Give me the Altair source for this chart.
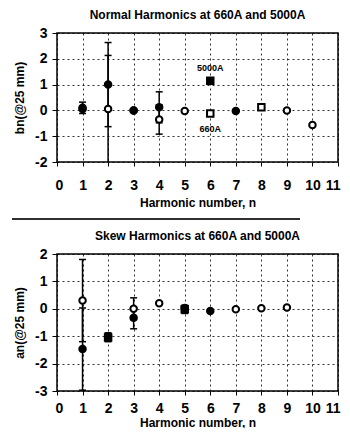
import altair as alt
import pandas as pd

# ---- Normal harmonics bn(@25 mm) ----
bn_660_n = [1, 2, 3, 4, 5, 6, 8, 9, 10]
bn_660_val = [0.05, 0.05, 0.0, -0.35, -0.02, -0.12, 0.12, 0.0, -0.57]
bn_660_err = [0.0, 2.08, 0.0, 0.57, 0.0, 0.0, 0.0, 0.0, 0.0]
bn_660_mk = ["circle", "circle", "circle", "circle", "circle", "square", "square", "circle", "circle"]

bn_5000_n = [1, 2, 3, 4, 6, 7]
bn_5000_val = [0.1, 1.0, 0.0, 0.12, 1.15, -0.02]
bn_5000_err = [0.22, 1.63, 0.0, 0.6, 0.0, 0.0]
bn_5000_mk = ["circle", "circle", "circle", "circle", "square", "circle"]

# ---- Skew harmonics an(@25 mm) ----
an_660_n = [1, 2, 3, 4, 5, 7, 8, 9]
an_660_val = [0.3, -1.0, 0.0, 0.2, 0.03, -0.02, 0.02, 0.05]
an_660_err = [1.5, 0.12, 0.4, 0.0, 0.0, 0.0, 0.0, 0.0]
an_660_mk = ["circle"] * 8

an_5000_n = [1, 2, 3, 5, 6]
an_5000_val = [-1.47, -1.05, -0.33, -0.02, -0.08]
an_5000_err = [1.5, 0.15, 0.4, 0.15, 0.0]
an_5000_mk = ["circle", "square", "circle", "square", "circle"]

x_ticks = list(range(0, 12))
bn_ticks = [3, 2, 1, 0, -1, -2]
an_ticks = [2, 1, 0, -1, -2, -3]

ann_text = ["5000A", "660A"]
ann_n = [6, 6]
ann_val = [1.65, -0.73]


def frame(n660, v660, e660, m660, n5000, v5000, e5000, m5000):
    a = pd.DataFrame({"n": n660, "val": v660, "err": e660, "marker": m660, "series": "660A"})
    b = pd.DataFrame({"n": n5000, "val": v5000, "err": e5000, "marker": m5000, "series": "5000A"})
    return pd.concat([a, b], ignore_index=True)


def panel(df, title, ytitle, yticks, w, h, lab_pad, ttl_pad, t_off, ann=None, sep=False):
    ydom = [min(yticks), max(yticks)]
    xenc = alt.X("n:Q", scale=alt.Scale(domain=[0, 11], nice=False, zero=False),
                 axis=alt.Axis(values=x_ticks, title="Harmonic number, n", grid=True,
                               gridDash=[2, 3], gridColor="black", gridOpacity=0.8,
                               domain=False, tickSize=4, labelPadding=lab_pad,
                               titlePadding=ttl_pad, labelFlush=True, labelFlushOffset=2,
                               labelOverlap=False, tickCount=12))
    yscale = alt.Scale(domain=ydom, nice=False, zero=False)
    yaxis = alt.Axis(values=yticks, title=ytitle, grid=True, gridDash=[2, 3],
                     gridColor="black", gridOpacity=0.8, domain=False, tickSize=5,
                     labelPadding=5, titlePadding=8, labelExpr="datum.value + ''",
                     labelOverlap=False, tickCount=6)
    base = alt.Chart(df)
    err = base.transform_filter("datum.err > 0").transform_calculate(
        lo="datum.val - datum.err", hi="datum.val + datum.err")
    rules = err.mark_rule(color="black", strokeWidth=1.5, clip=True).encode(
        x=xenc, y=alt.Y("lo:Q", scale=yscale, axis=yaxis), y2="hi:Q")
    cap_lo = err.mark_tick(orient="horizontal", color="black", size=7, thickness=1.5,
                           clip=True, opacity=1).encode(x="n:Q", y="lo:Q")
    cap_hi = err.mark_tick(orient="horizontal", color="black", size=7, thickness=1.5,
                           clip=True, opacity=1).encode(x="n:Q", y="hi:Q")
    pts = base.mark_point(filled=True, stroke="black", strokeWidth=2, size=42, opacity=1,
                          clip=True).encode(
        x="n:Q", y=alt.Y("val:Q"),
        fill=alt.Fill("series:N", scale=alt.Scale(domain=["660A", "5000A"],
                                                  range=["white", "black"]), legend=None),
        shape=alt.Shape("marker:N", scale=alt.Scale(domain=["circle", "square"],
                                                    range=["circle", "square"]), legend=None))
    layers = [rules, cap_lo, cap_hi, pts]
    if ann is not None:
        txt = alt.Chart(ann).mark_text(fontSize=9, fontWeight="bold", color="black",
                                       font="Liberation Sans").encode(
            x="n:Q", y="val:Q", text="label:N")
        layers.append(txt)
    if sep:
        line = alt.Chart(ann).mark_rule(color="#222222", strokeWidth=1.5).encode(
            x=alt.value(-45), x2=alt.value(243), y=alt.value(h + 57))
        layers.append(line)
    return alt.layer(*layers).properties(
        width=w, height=h,
        title=alt.TitleParams(title, offset=t_off))


bn_df = frame(bn_660_n, bn_660_val, bn_660_err, bn_660_mk,
              bn_5000_n, bn_5000_val, bn_5000_err, bn_5000_mk)
an_df = frame(an_660_n, an_660_val, an_660_err, an_660_mk,
              an_5000_n, an_5000_val, an_5000_err, an_5000_mk)
ann_df = pd.DataFrame({"label": ann_text, "n": ann_n, "val": ann_val})

top = panel(bn_df, "Normal Harmonics at 660A and 5000A", "bn(@25 mm)", bn_ticks,
            281, 129, 12, 5, 4, ann_df, sep=True)
bottom = panel(an_df, "Skew Harmonics at 660A and 5000A", "an(@25 mm)", an_ticks,
               281, 137, 6, 2, 4)

chart = alt.vconcat(top, bottom, spacing=8).properties(
    padding={"left": 2, "top": 0, "right": 0, "bottom": -1}
).configure(font="Liberation Sans").configure_axis(
    labelFont="Liberation Sans", titleFont="Liberation Sans",
    labelFontWeight="bold", titleFontWeight="bold",
    labelFontSize=14, titleFontSize=12,
    labelColor="black", titleColor="black", tickColor="black"
).configure_view(stroke="black", strokeWidth=1.5).configure_title(
    font="Liberation Sans", fontSize=12, fontWeight="bold", color="black", anchor="middle")

chart.save("out.html", embed_options={"renderer": "svg", "actions": False})
